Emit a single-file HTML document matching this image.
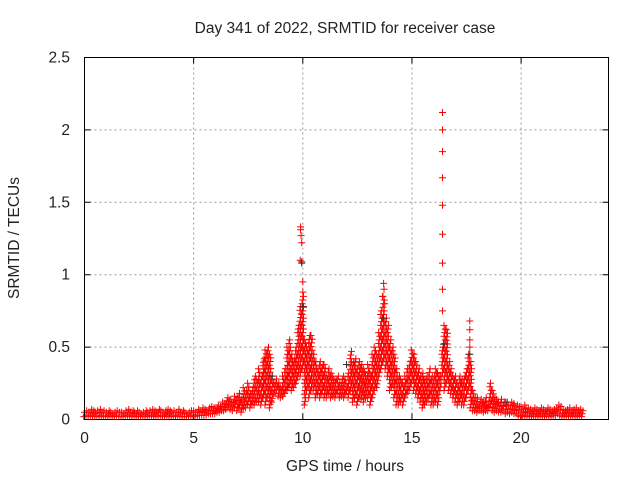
<!DOCTYPE html>
<html><head><meta charset="utf-8"><style>
html,body{margin:0;padding:0;background:#fff}
svg{display:block}
text{font-family:"Liberation Sans",sans-serif;font-size:15.5px;fill:#222}
</style></head><body>
<svg id="chart" width="640" height="480" viewBox="0 0 640 480">
<text x="345" y="33" text-anchor="middle">Day 341 of 2022, SRMTID for receiver case</text>
<text x="345" y="471" text-anchor="middle">GPS time / hours</text>
<text transform="translate(19,238) rotate(-90)" text-anchor="middle">SRMTID / TECUs</text>
<g id="grid"></g>
<g id="ticks"></g>
<g id="marks"></g>
<rect x="84.5" y="57.5" width="524" height="362" fill="none" stroke="#000" stroke-width="1"/>
</svg>
<script>
const xTicks=[0,5,10,15,20];
const yTicks=[0,0.5,1,1.5,2,2.5];
const yTickLabels=["0","0.5","1","1.5","2","2.5"];
const binStart=0, binStep=0.1;
const hi=[0.05,0.06,0.05,0.07,0.06,0.05,0.06,0.07,0.05,0.06,
0.05,0.06,0.05,0.04,0.05,0.06,0.05,0.05,0.04,0.06,
0.07,0.05,0.06,0.05,0.06,0.05,0.04,0.05,0.06,0.05,
0.06,0.07,0.06,0.05,0.07,0.06,0.05,0.06,0.07,0.06,
0.05,0.06,0.05,0.07,0.05,0.06,0.05,0.04,0.05,0.06,
0.06,0.05,0.07,0.06,0.08,0.07,0.06,0.08,0.09,0.08,
0.08,0.10,0.09,0.12,0.11,0.13,0.15,0.14,0.12,0.16,
0.15,0.18,0.14,0.22,0.20,0.25,0.18,0.22,0.30,0.28,
0.35,0.30,0.42,0.48,0.50,0.45,0.30,0.25,0.28,0.25,
0.22,0.30,0.35,0.50,0.55,0.45,0.42,0.50,0.65,0.78,
0.85,0.55,0.50,0.58,0.58,0.45,0.40,0.35,0.40,0.38,
0.38,0.30,0.35,0.32,0.30,0.28,0.30,0.25,0.28,0.30,
0.25,0.32,0.47,0.40,0.42,0.35,0.40,0.38,0.35,0.30,
0.38,0.32,0.45,0.50,0.45,0.60,0.75,0.85,0.70,0.65,
0.55,0.50,0.45,0.35,0.30,0.28,0.25,0.30,0.35,0.40,
0.48,0.45,0.40,0.35,0.30,0.32,0.28,0.30,0.35,0.30,
0.30,0.35,0.32,0.30,0.50,0.65,0.62,0.40,0.35,0.30,
0.30,0.25,0.30,0.28,0.30,0.35,0.45,0.40,0.20,0.15,
0.15,0.12,0.14,0.12,0.15,0.12,0.25,0.20,0.15,0.14,
0.12,0.14,0.12,0.10,0.12,0.10,0.12,0.11,0.10,0.09,
0.08,0.07,0.10,0.08,0.07,0.06,0.08,0.07,0.06,0.08,
0.07,0.06,0.08,0.07,0.06,0.07,0.08,0.10,0.09,0.07,
0.06,0.07,0.08,0.06,0.07,0.08,0.06,0.07,0.06];
const lo=[0.02,0.03,0.02,0.03,0.02,0.02,0.03,0.02,0.02,0.03,
0.02,0.02,0.03,0.02,0.02,0.03,0.02,0.02,0.02,0.03,
0.03,0.02,0.02,0.03,0.02,0.02,0.02,0.03,0.02,0.02,
0.03,0.03,0.02,0.02,0.03,0.03,0.02,0.02,0.03,0.02,
0.02,0.03,0.02,0.03,0.02,0.02,0.02,0.02,0.02,0.03,
0.03,0.02,0.03,0.03,0.03,0.03,0.03,0.04,0.04,0.04,
0.04,0.05,0.05,0.06,0.06,0.07,0.08,0.07,0.06,0.08,
0.06,0.08,0.05,0.08,0.08,0.10,0.08,0.10,0.10,0.12,
0.12,0.10,0.15,0.10,0.15,0.08,0.12,0.18,0.18,0.16,
0.15,0.16,0.18,0.20,0.22,0.20,0.22,0.25,0.30,0.30,
0.35,0.10,0.20,0.15,0.20,0.20,0.15,0.18,0.15,0.18,
0.15,0.15,0.18,0.15,0.16,0.15,0.18,0.15,0.16,0.15,
0.18,0.15,0.20,0.12,0.15,0.10,0.15,0.14,0.12,0.15,
0.15,0.10,0.15,0.20,0.22,0.30,0.35,0.40,0.35,0.30,
0.20,0.22,0.15,0.10,0.10,0.12,0.10,0.15,0.18,0.20,
0.25,0.20,0.18,0.15,0.12,0.08,0.10,0.12,0.15,0.10,
0.10,0.12,0.10,0.20,0.30,0.20,0.25,0.20,0.18,0.15,
0.12,0.10,0.12,0.10,0.10,0.15,0.20,0.08,0.06,0.06,
0.05,0.06,0.06,0.05,0.06,0.06,0.08,0.06,0.05,0.06,
0.05,0.05,0.06,0.04,0.05,0.04,0.05,0.04,0.04,0.03,
0.02,0.03,0.02,0.03,0.02,0.02,0.03,0.02,0.02,0.03,
0.02,0.02,0.03,0.02,0.02,0.03,0.03,0.04,0.03,0.02,
0.02,0.03,0.02,0.02,0.03,0.02,0.02,0.03,0.02];
const spikeT=[9.88,9.9,9.9,9.92,9.95,9.95,10.0,10.0,10.03,13.65,13.7,13.72,13.75,16.4,16.4,16.4,16.4,16.4,16.4,16.4,16.4,16.4,17.65,17.65,17.65,17.65];
const spikeV=[1.1,1.33,1.31,1.27,1.22,1.09,0.95,0.88,0.78,0.85,0.94,0.9,0.8,2.12,2.0,1.85,1.67,1.48,1.28,1.08,0.9,0.75,0.68,0.62,0.55,0.5];
const blackT=[9.95,10.0,13.7,16.45,17.65,8.6,12.0,19.3];
const blackV=[1.08,0.78,0.7,0.52,0.45,0.3,0.38,0.12];

const X0=84.5,XS=21.83,Y0=419.5,YS=144.8;
const sx=h=>X0+h*XS, sy=v=>Y0-v*YS;
const NS="http://www.w3.org/2000/svg";
const grid=document.getElementById('grid'),ticks=document.getElementById('ticks'),marks=document.getElementById('marks');
function mk(tag,attrs,parent){const e=document.createElementNS(NS,tag);for(const k in attrs)e.setAttribute(k,attrs[k]);parent.appendChild(e);return e;}
xTicks.forEach(t=>{const x=sx(t);
 if(t>0){const g=mk('line',{x1:x,x2:x,y1:57.5,y2:419.5,stroke:'#999','stroke-dasharray':'2,3'},grid);
 
 }
 const tk=mk('path',{d:`M${x},419.5v-6M${x},57.5v6`,stroke:'#000'},ticks);
 
 
 const l=mk('text',{x:x,y:443,'text-anchor':'middle'},ticks);l.textContent=String(t);
 
 
});
yTicks.forEach((t,i)=>{const y=sy(t);
 if(t>0&&t<2.5){const g=mk('line',{x1:84.5,x2:608.5,y1:y,y2:y,stroke:'#999','stroke-dasharray':'2,3'},grid);
 
 }
 const tk=mk('path',{d:`M84.5,${y}h6M608.5,${y}h-6`,stroke:'#000'},ticks);
 
 
 const l=mk('text',{x:70,y:y+5,'text-anchor':'end'},ticks);l.textContent=yTickLabels[i];
 
 
});
function plus(h,v,color,name){const x=sx(h),y=sy(v);
 const p=mk('path',{d:`M${(x-3.5).toFixed(1)},${y.toFixed(1)}h7M${x.toFixed(1)},${(y-3.5).toFixed(1)}v7`,stroke:color,'stroke-width':1},marks);
 
 
}
hi.forEach((h,i)=>{const t=binStart+i*binStep;const l=lo[i];
 const n=Math.max(1,Math.round((h-l)/0.025));
 for(let k=0;k<=n;k++){const v=l+(h-l)*k/n;plus(t+((k%3)-1)*0.03,v,'#f00','srmtid-point');}
});
spikeT.forEach((t,i)=>plus(t,spikeV[i],'#f00','srmtid-spike-point'));
blackT.forEach((t,i)=>plus(t,blackV[i],'#333','srmtid-black-point'));
</script>
</body></html>
